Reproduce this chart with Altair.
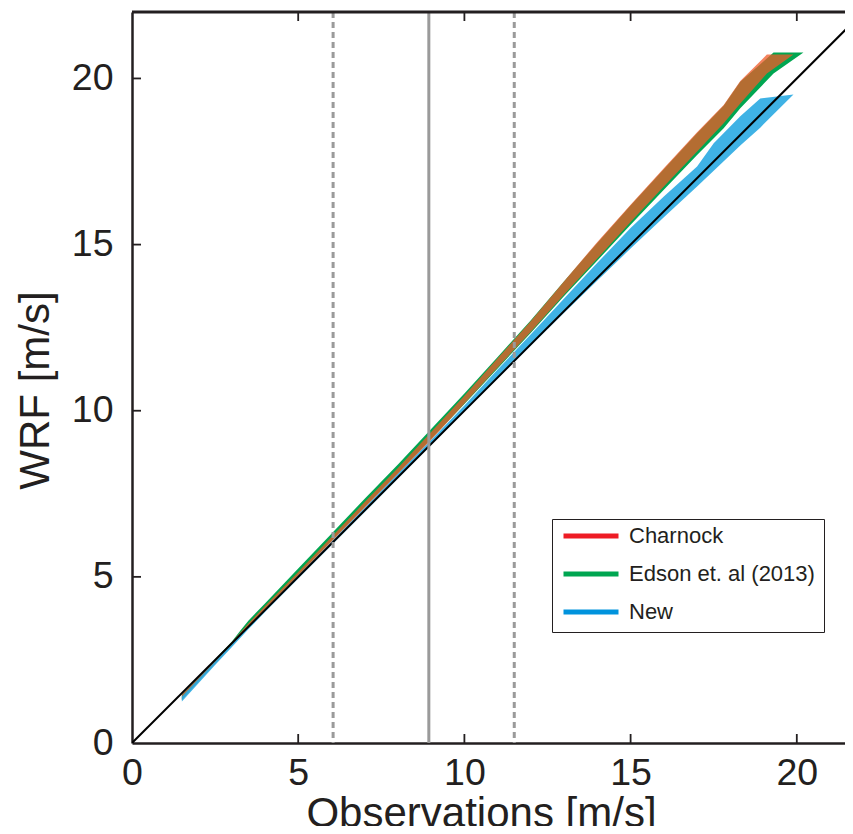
import altair as alt
import pandas as pd

# ---------------- data ----------------
models = ["Charnock", "Edson et. al (2013)", "New"]

ch_x  = [1.5, 2.0, 2.5, 3.0, 3.5, 4.0, 5.0, 6.0, 7.0, 8.0, 9.0, 10.0, 11.0, 12.0, 13.0, 14.0, 15.0, 16.0, 17.0, 17.8, 18.3, 19.1, 19.9]
ch_lo = [1.30, 1.85, 2.38, 2.92, 3.48, 4.00, 5.02, 6.05, 7.07, 8.08, 9.12, 10.22, 11.30, 12.38, 13.50, 14.58, 15.68, 16.75, 17.80, 18.65, 19.25, 20.15, 20.72]
ch_hi = [1.45, 1.98, 2.50, 3.03, 3.60, 4.12, 5.15, 6.20, 7.25, 8.28, 9.36, 10.45, 11.58, 12.70, 13.90, 15.08, 16.20, 17.30, 18.38, 19.20, 19.92, 20.72, 20.72]

ed_x  = [1.5, 2.0, 2.5, 3.0, 3.25, 3.5, 4.0, 5.0, 6.0, 7.0, 8.0, 9.0, 10.0, 11.0, 12.0, 13.0, 14.0, 15.0, 16.0, 17.0, 17.8, 18.3, 19.3, 20.2]
ed_lo = [1.30, 1.85, 2.40, 2.95, 3.25, 3.52, 4.03, 5.05, 6.08, 7.10, 8.12, 9.15, 10.20, 11.27, 12.35, 13.45, 14.52, 15.60, 16.65, 17.70, 18.50, 19.10, 20.15, 20.78]
ed_hi = [1.45, 1.98, 2.52, 3.05, 3.37, 3.68, 4.20, 5.25, 6.30, 7.35, 8.38, 9.45, 10.52, 11.62, 12.72, 13.90, 15.05, 16.18, 17.27, 18.35, 19.18, 19.90, 20.78, 20.78]

nw_x  = [1.5, 2.0, 2.5, 3.0, 3.5, 4.0, 5.0, 6.0, 7.0, 8.0, 9.0, 10.0, 11.0, 12.0, 13.0, 14.0, 15.0, 16.0, 17.0, 17.5, 18.3, 18.9, 19.9]
nw_lo = [1.25, 1.80, 2.35, 2.88, 3.42, 3.94, 4.95, 5.95, 6.95, 7.96, 8.97, 9.98, 10.97, 11.96, 12.95, 13.92, 14.88, 15.82, 16.75, 17.22, 17.98, 18.52, 19.52]
nw_hi = [1.40, 1.93, 2.45, 2.98, 3.50, 4.02, 5.04, 6.06, 7.08, 8.10, 9.12, 10.16, 11.24, 12.30, 13.38, 14.45, 15.50, 16.45, 17.35, 18.05, 18.86, 19.40, 19.52]

diag_x = [0, 22]
dashed_x = [6.05, 11.5]
solid_x = [8.93]
tick_vals = [5, 10, 15, 20]
axis_vals = [0, 5, 10, 15, 20]

# ---------------- frames ----------------
def band(name, xs, lo, hi):
    return pd.DataFrame({"model": name, "x": xs, "lo": lo, "hi": hi})

bands = pd.concat([band(models[0], ch_x, ch_lo, ch_hi),
                   band(models[1], ed_x, ed_lo, ed_hi),
                   band(models[2], nw_x, nw_lo, nw_hi)], ignore_index=True)
diag_df = pd.DataFrame({"x": diag_x, "y": diag_x})
dash_df = pd.DataFrame({"x": dashed_x})
solid_df = pd.DataFrame({"x": solid_x})
tick_df = pd.DataFrame({"v": tick_vals})
one_df = pd.DataFrame({"a": [0]})

W, H = 713, 731
FONT = "Liberation Sans"
INK = "#231f20"

xscale = alt.Scale(domain=[0, 21.45], nice=False, zero=False)
yscale = alt.Scale(domain=[0, 22], nice=False, zero=False)

xaxis = alt.Axis(values=axis_vals, ticks=False, grid=False, domainColor=INK, domainWidth=2.5,
                 labelFont=FONT, labelFontSize=37.5, labelColor=INK, labelPadding=11, labelFlush=False,
                 title="Observations [m/s]", titleFont=FONT, titleFontSize=42, titleFontWeight="normal",
                 titleColor=INK, titlePadding=2, titleX=349)
yaxis = alt.Axis(values=axis_vals, ticks=False, grid=False, domainColor=INK, domainWidth=2.5,
                 labelFont=FONT, labelFontSize=37.5, labelColor=INK, labelPadding=19,
                 title="WRF [m/s]", titleFont=FONT, titleFontSize=42, titleFontWeight="normal",
                 titleColor=INK, titlePadding=14, titleY=378)

X = alt.X("x:Q", scale=xscale, axis=xaxis)
Y = alt.Y("lo:Q", scale=yscale, axis=yaxis)

def area(name, color, opacity):
    return alt.Chart(bands).transform_filter(alt.datum.model == name).mark_area(
        color=color, opacity=opacity, interpolate="linear").encode(x=X, y=Y, y2="hi:Q")

green = area(models[1], "#00a651", 1.0)
red = area(models[0], "#f05a28", 0.75)
blue = area(models[2], "#2aaae2", 0.9)

legend_layer = alt.Chart(bands).mark_line(strokeOpacity=0, strokeWidth=5).encode(
    x=X, y=Y,
    detail="model:N",
    color=alt.Color("model:N", scale=alt.Scale(domain=models, range=["#ee1c25", "#00a651", "#0093dd"]),
                    legend=alt.Legend(title=None, orient="none", legendX=420, legendY=507,
                                      symbolType="stroke", symbolSize=3025, symbolStrokeWidth=5,
                                      symbolOpacity=1, clipHeight=16, rowPadding=16, padding=9,
                                      labelFont=FONT, labelFontSize=22, labelColor=INK, labelOffset=8,
                                      labelLimit=400, strokeColor=INK, fillColor="white")))

diag = alt.Chart(diag_df).mark_line(color="black", strokeWidth=2, clip=True).encode(
    x=alt.X("x:Q", scale=xscale, axis=xaxis), y=alt.Y("y:Q", scale=yscale, axis=yaxis))

dashed = alt.Chart(dash_df).mark_rule(color="#9a9a9a", strokeWidth=3, strokeDash=[6, 4]).encode(
    x=alt.X("x:Q", scale=xscale, axis=xaxis))
solid = alt.Chart(solid_df).mark_rule(color="#9a9a9a", strokeWidth=3).encode(
    x=alt.X("x:Q", scale=xscale, axis=xaxis))

bottom_ticks = alt.Chart(tick_df).mark_rule(color=INK, strokeWidth=1.8).encode(
    x=alt.X("v:Q", scale=xscale, axis=xaxis), y=alt.value(H), y2=alt.value(H - 9))
top_ticks = alt.Chart(tick_df).mark_rule(color=INK, strokeWidth=1.8).encode(
    x=alt.X("v:Q", scale=xscale, axis=xaxis), y=alt.value(0), y2=alt.value(9))
left_ticks = alt.Chart(tick_df).mark_rule(color=INK, strokeWidth=1.8).encode(
    y=alt.Y("v:Q", scale=yscale, axis=yaxis), x=alt.value(0), x2=alt.value(9))
top_border = alt.Chart(one_df).mark_rule(color=INK, strokeWidth=3).encode(
    x=alt.value(0), x2=alt.value(W), y=alt.value(0))

chart = alt.layer(green, red, blue, legend_layer, diag, dashed, solid,
                  bottom_ticks, top_ticks, left_ticks, top_border).properties(
    width=W, height=H,
    autosize=alt.AutoSizeParams(type="none"),
    padding={"left": 124, "top": 4, "right": 0, "bottom": 83},
).configure_view(stroke=None).configure(background="white")

chart.save("out.html", embed_options={"renderer": "svg", "actions": False})
